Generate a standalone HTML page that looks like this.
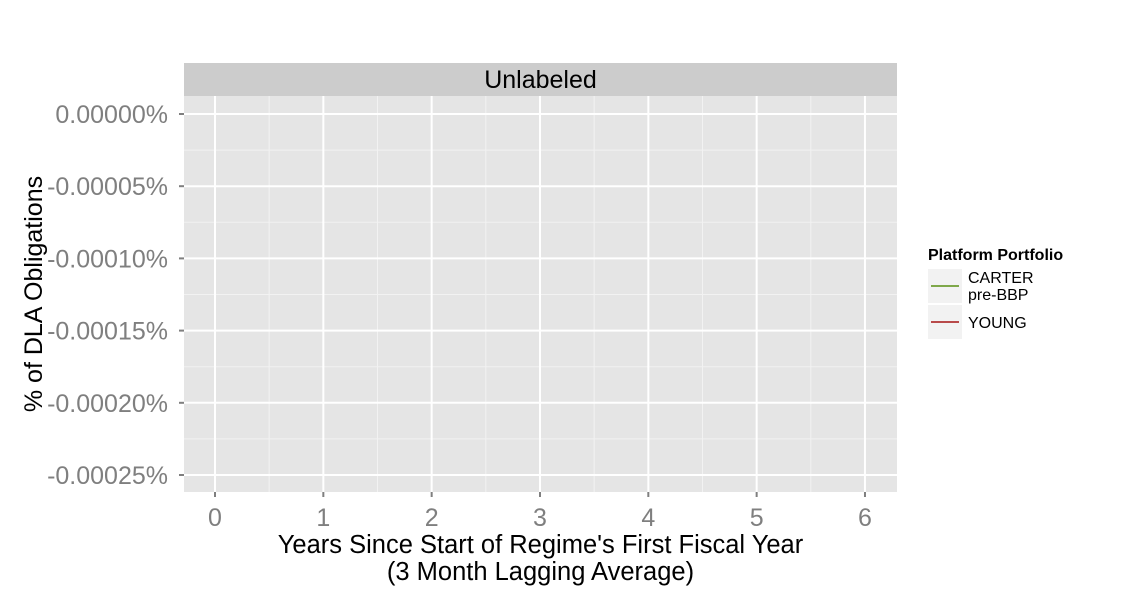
<!DOCTYPE html>
<html><head><meta charset="utf-8"><style>
body{margin:0;background:#fff;}
svg{display:block;font-family:"Liberation Sans",Arial,sans-serif;}
</style></head><body>
<svg id="chart" width="1125" height="600">
<rect width="1125" height="600" fill="#fff"/>
<rect x="184" y="63" width="713" height="33" fill="#cccccc"/>
<text x="540.5" y="88" text-anchor="middle" font-size="25" fill="#000">Unlabeled</text>
<rect x="184" y="96" width="713" height="396" fill="#e5e5e5"/>
<g id="grid"></g><g id="axes"></g><g id="series"></g>
<text x="540.5" y="553" text-anchor="middle" font-size="25.5" fill="#000">Years Since Start of Regime's First Fiscal Year</text>
<text x="540.5" y="580" text-anchor="middle" font-size="25.5" fill="#000">(3 Month Lagging Average)</text>
<text transform="translate(42,294) rotate(-90)" text-anchor="middle" font-size="25" fill="#000">% of DLA Obligations</text>
<g>
<text x="928" y="260" font-size="16" font-weight="bold" fill="#000">Platform Portfolio</text>
<g>
<rect x="928" y="269" width="34" height="34" fill="#f2f2f2"/>
<line x1="931" y1="286" x2="959" y2="286" stroke="#7fa84a" stroke-width="2"/>
<text x="968" y="283" font-size="16" fill="#000">CARTER</text>
<text x="968" y="300" font-size="16" fill="#000">pre-BBP</text>
</g>
<g>
<rect x="928" y="305" width="34" height="34" fill="#f2f2f2"/>
<line x1="931" y1="322" x2="959" y2="322" stroke="#b84a4a" stroke-width="2"/>
<text x="968" y="328" font-size="16" fill="#000">YOUNG</text>
</g>
</g>
</svg>
<script>
const xTicks=[0,1,2,3,4,5,6];
const yTicks=[0,-0.00005,-0.0001,-0.00015,-0.0002,-0.00025];
const yTickLabels=["0.00000%","-0.00005%","-0.00010%","-0.00015%","-0.00020%","-0.00025%"];
const carterX=[];const carterY=[];
const youngX=[];const youngY=[];
const NS="http://www.w3.org/2000/svg";
function xs(v){return 215+v*108.33;}
function ys(v){return 114-v/0.00005*72.2;}
function mk(tag,attrs,parent){const e=document.createElementNS(NS,tag);for(const k in attrs)e.setAttribute(k,attrs[k]);parent.appendChild(e);return e;}
const grid=document.getElementById('grid'),axes=document.getElementById('axes'),ser=document.getElementById('series');
for(let i=0;i<xTicks.length-1;i++){const x=xs((xTicks[i]+xTicks[i+1])/2);const l=mk('line',{x1:x,x2:x,y1:96,y2:492,stroke:'#f2f2f2','stroke-width':1},grid);}
for(let i=0;i<yTicks.length-1;i++){const y=ys((yTicks[i]+yTicks[i+1])/2);const l=mk('line',{x1:184,x2:897,y1:y,y2:y,stroke:'#f2f2f2','stroke-width':1},grid);}
xTicks.forEach(v=>{const x=xs(v);
const l=mk('line',{x1:x,x2:x,y1:96,y2:492,stroke:'#fff','stroke-width':2},grid);
const t=mk('line',{x1:x,x2:x,y1:492,y2:497,stroke:'#7f7f7f','stroke-width':2},axes);
const tx=mk('text',{x:x,y:526,'text-anchor':'middle','font-size':25,fill:'#7f7f7f'},axes);tx.textContent=v;});
yTicks.forEach((v,i)=>{const y=ys(v);
const l=mk('line',{x1:184,x2:897,y1:y,y2:y,stroke:'#fff','stroke-width':2},grid);
const t=mk('line',{x1:179,x2:184,y1:y,y2:y,stroke:'#7f7f7f','stroke-width':2},axes);
const tx=mk('text',{x:168,y:y+9,'text-anchor':'end','font-size':25,fill:'#7f7f7f'},axes);tx.textContent=yTickLabels[i];});
function line(xa,ya,color,name){if(!xa.length)return;const p=mk('polyline',{points:xa.map((x,i)=>xs(x)+','+ys(ya[i])).join(' '),fill:'none',stroke:color,'stroke-width':2},ser);}
line(carterX,carterY,'#7fa84a','carter-line');
line(youngX,youngY,'#b84a4a','young-line');
</script>
</body></html>
